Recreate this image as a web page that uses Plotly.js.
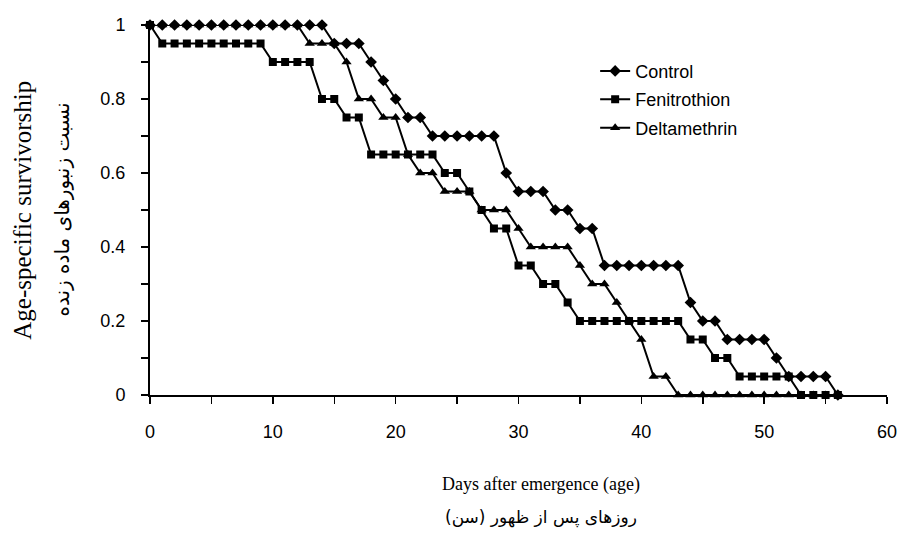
<!DOCTYPE html>
<html>
<head>
<meta charset="utf-8">
<script src="https://cdn.plot.ly/plotly-3.0.1.min.js"></script>
<style>html,body{margin:0;padding:0;background:#fff;}#chart{width:899px;height:543px;}</style>
</head>
<body>
<div id="chart"></div>
<script>
// Days after emergence
var days = [0,1,2,3,4,5,6,7,8,9,10,11,12,13,14,15,16,17,18,19,20,21,22,23,24,25,26,27,28,29,30,31,32,33,34,35,36,37,38,39,40,41,42,43,44,45,46,47,48,49,50,51,52,53,54,55,56];

var controlVals = [1,1,1,1,1,1,1,1,1,1,1,1,1,1,1,0.95,0.95,0.95,0.9,0.85,0.8,0.75,0.75,0.7,0.7,0.7,0.7,0.7,0.7,0.6,0.55,0.55,0.55,0.5,0.5,0.45,0.45,0.35,0.35,0.35,0.35,0.35,0.35,0.35,0.25,0.2,0.2,0.15,0.15,0.15,0.15,0.1,0.05,0.05,0.05,0.05,0];

var fenitrothionVals = [1,0.95,0.95,0.95,0.95,0.95,0.95,0.95,0.95,0.95,0.9,0.9,0.9,0.9,0.8,0.8,0.75,0.75,0.65,0.65,0.65,0.65,0.65,0.65,0.6,0.6,0.55,0.5,0.45,0.45,0.35,0.35,0.3,0.3,0.25,0.2,0.2,0.2,0.2,0.2,0.2,0.2,0.2,0.2,0.15,0.15,0.1,0.1,0.05,0.05,0.05,0.05,0.05,0,0,0,0];

var deltamethrinVals = [1,1,1,1,1,1,1,1,1,1,1,1,1,0.95,0.95,0.95,0.9,0.8,0.8,0.75,0.75,0.65,0.6,0.6,0.55,0.55,0.55,0.5,0.5,0.5,0.45,0.4,0.4,0.4,0.4,0.35,0.3,0.3,0.25,0.2,0.15,0.05,0.05,0,0,0,0,0,0,0,0,0,0,0,0,0,0];

var seriesNames = ['Control', 'Fenitrothion', 'Deltamethrin'];
var xTickVals = [0,10,20,30,40,50,60];
var yTickVals = [0,0.2,0.4,0.6,0.8,1];

var xTitle = 'Days after emergence (age)';
var xTitleFa = 'روزهای پس از ظهور (سن)';
var yTitle = 'Age-specific survivorship';
var yTitleFa = 'نسبت زنبورهای ماده زنده';

var lineStyle = {color: '#000', width: 2};

var traces = [
  {x: days, y: deltamethrinVals, name: seriesNames[2], type: 'scatter', mode: 'lines+markers',
   line: lineStyle, marker: {symbol: 'triangle-up', size: 9, color: '#000'},
   cliponaxis: false, legendrank: 3, legendgroup: 'd'},
  {x: days, y: fenitrothionVals, name: seriesNames[1], type: 'scatter', mode: 'lines+markers',
   line: lineStyle, marker: {symbol: 'square', size: 8, color: '#000'},
   cliponaxis: false, legendrank: 2, legendgroup: 'f'},
  {x: days, y: controlVals, name: seriesNames[0], type: 'scatter', mode: 'lines+markers',
   line: lineStyle, marker: {symbol: 'diamond', size: 9, color: '#000'},
   cliponaxis: false, legendrank: 1, legendgroup: 'c'}
];

var tickFont = {family: 'Liberation Sans, Arial, sans-serif', size: 18, color: '#000'};

var layout = {
  width: 899, height: 543,
  margin: {l: 150, r: 12, t: 25, b: 148},
  paper_bgcolor: '#fff', plot_bgcolor: '#fff',
  showlegend: true,
  legend: {x: 0.604, y: 0.925, xanchor: 'left', yanchor: 'top',
           font: {family: 'Liberation Sans, Arial, sans-serif', size: 18, color: '#000'},
           bgcolor: 'rgba(0,0,0,0)', tracegroupgap: 2, traceorder: 'grouped'},
  xaxis: {range: [0, 60], tickvals: xTickVals, ticks: 'outside', ticklen: 7, tickwidth: 1.5,
          tickcolor: '#000', showline: true, linecolor: '#000', linewidth: 2,
          showgrid: false, zeroline: false, tickfont: tickFont, ticklabelstandoff: 12,
          minor: {dtick: 5, ticks: 'outside', ticklen: 7, tickwidth: 1.5, tickcolor: '#000', showgrid: false}},
  yaxis: {range: [0, 1], tickvals: yTickVals, ticks: 'outside', ticklen: 7, tickwidth: 1.5,
          tickcolor: '#000', showline: true, linecolor: '#000', linewidth: 2,
          showgrid: false, zeroline: false, tickfont: tickFont, ticklabelstandoff: 12,
          minor: {dtick: 0.1, ticks: 'outside', ticklen: 7, tickwidth: 1.5, tickcolor: '#000', showgrid: false}},
  annotations: [
    {text: xTitle, xref: 'paper', yref: 'paper', x: 0.53, y: -0.243, xanchor: 'center', yanchor: 'middle',
     showarrow: false, font: {family: 'Liberation Serif, Times New Roman, serif', size: 18, color: '#000'}},
    {text: xTitleFa, xref: 'paper', yref: 'paper', x: 0.53, y: -0.33, xanchor: 'center', yanchor: 'middle',
     showarrow: false, font: {family: 'DejaVu Sans, sans-serif', size: 17, color: '#000'}},
    {text: yTitle, xref: 'paper', yref: 'paper', x: -0.174, y: 0.5, xanchor: 'center', yanchor: 'middle',
     textangle: -90, showarrow: false, font: {family: 'Liberation Serif, Times New Roman, serif', size: 25, color: '#000'}},
    {text: yTitleFa, xref: 'paper', yref: 'paper', x: -0.12, y: 0.5, xanchor: 'center', yanchor: 'middle',
     textangle: -90, showarrow: false, font: {family: 'DejaVu Sans, sans-serif', size: 20, color: '#000'}}
  ]
};

Plotly.newPlot('chart', traces, layout, {displayModeBar: false, staticPlot: true});
</script>
</body>
</html>
